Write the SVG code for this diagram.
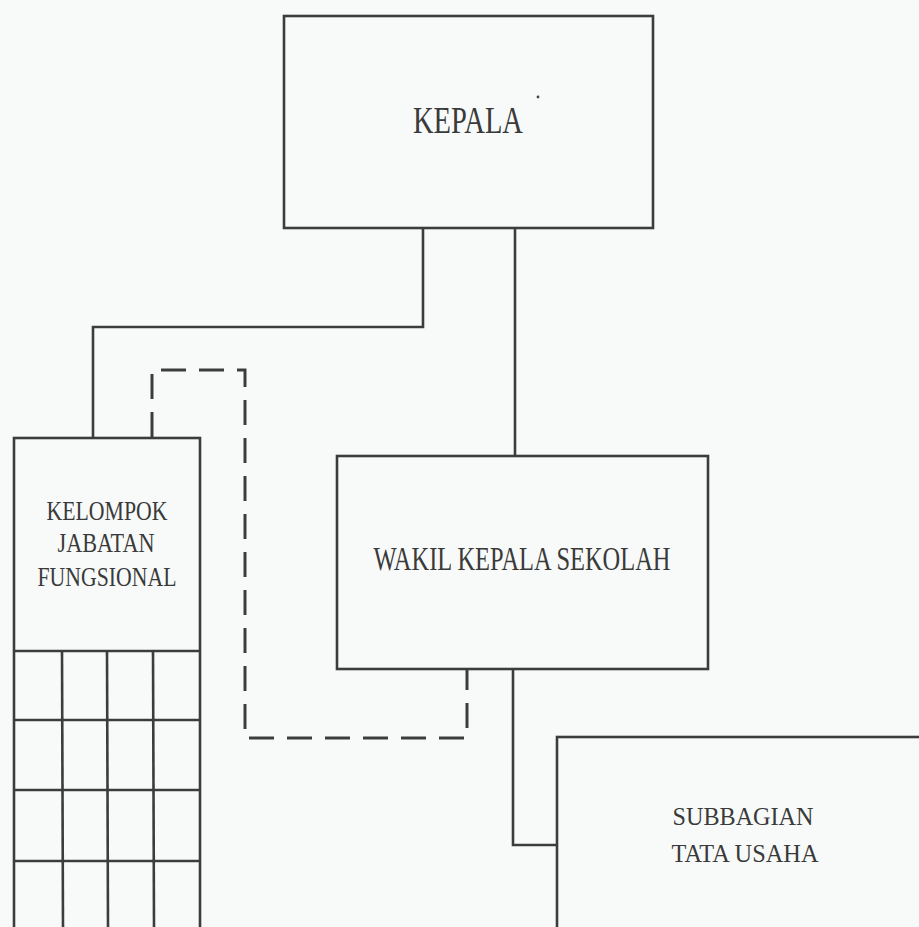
<svg xmlns="http://www.w3.org/2000/svg" width="919" height="927" viewBox="0 0 919 927">
<style>
.box{fill:none;stroke:#3c3c3c;stroke-width:2.6}
.ln{fill:none;stroke:#3c3c3c;stroke-width:2.6}
.dash{fill:none;stroke:#3c3c3c;stroke-width:3;stroke-dasharray:25 13}
.t{fill:#3a3a3a;text-anchor:middle}
</style>
<rect width="919" height="927" fill="#f8fafa"/>
<g id="connectors">
<polyline class="ln" points="423,228 423,327 93,327 93,438"/>
<line class="ln" x1="515" y1="228" x2="515" y2="456"/>
<polyline class="ln" points="513,669 513,845 558,845"/>
<polyline class="dash" points="152,437 152,370 245,370 245,738 467,738 467,669"/>
</g>
<g id="kepala">
<rect class="box" x="284" y="16" width="369" height="212"/>
<text class="t" font-family="Liberation Serif, serif" x="468" y="133" font-size="38" textLength="110" lengthAdjust="spacingAndGlyphs">KEPALA</text>
<circle cx="538" cy="97" r="1.4" fill="#444"/>
</g>
<g id="kelompok">
<rect class="box" x="14" y="438" width="186" height="500"/>
<text class="t" font-family="Liberation Serif, serif" x="107" y="520" font-size="27" textLength="121" lengthAdjust="spacingAndGlyphs">KELOMPOK</text>
<text class="t" font-family="Liberation Serif, serif" x="106" y="552" font-size="27" textLength="97" lengthAdjust="spacingAndGlyphs">JABATAN</text>
<text class="t" font-family="Liberation Serif, serif" x="107" y="586" font-size="27" textLength="139" lengthAdjust="spacingAndGlyphs">FUNGSIONAL</text>
<g class="ln">
<line x1="14" y1="651" x2="200" y2="651"/>
<line x1="14" y1="720" x2="200" y2="720"/>
<line x1="14" y1="790" x2="200" y2="790"/>
<line x1="14" y1="861" x2="200" y2="861"/>
<line x1="62" y1="651" x2="63" y2="927"/>
<line x1="107" y1="651" x2="108" y2="927"/>
<line x1="153" y1="651" x2="154" y2="927"/>
</g>
</g>
<g id="wakil">
<rect class="box" x="337" y="456" width="371" height="213"/>
<text class="t" font-family="Liberation Serif, serif" x="522" y="570" font-size="33" textLength="297" lengthAdjust="spacingAndGlyphs">WAKIL KEPALA SEKOLAH</text>
</g>
<g id="subbagian">
<rect class="box" x="557" y="737" width="380" height="220"/>
<text class="t" font-family="Liberation Serif, serif" x="743" y="825" font-size="26" textLength="141" lengthAdjust="spacingAndGlyphs">SUBBAGIAN</text>
<text class="t" font-family="Liberation Serif, serif" x="745" y="862" font-size="26" textLength="147" lengthAdjust="spacingAndGlyphs">TATA USAHA</text>
</g>
</svg>
